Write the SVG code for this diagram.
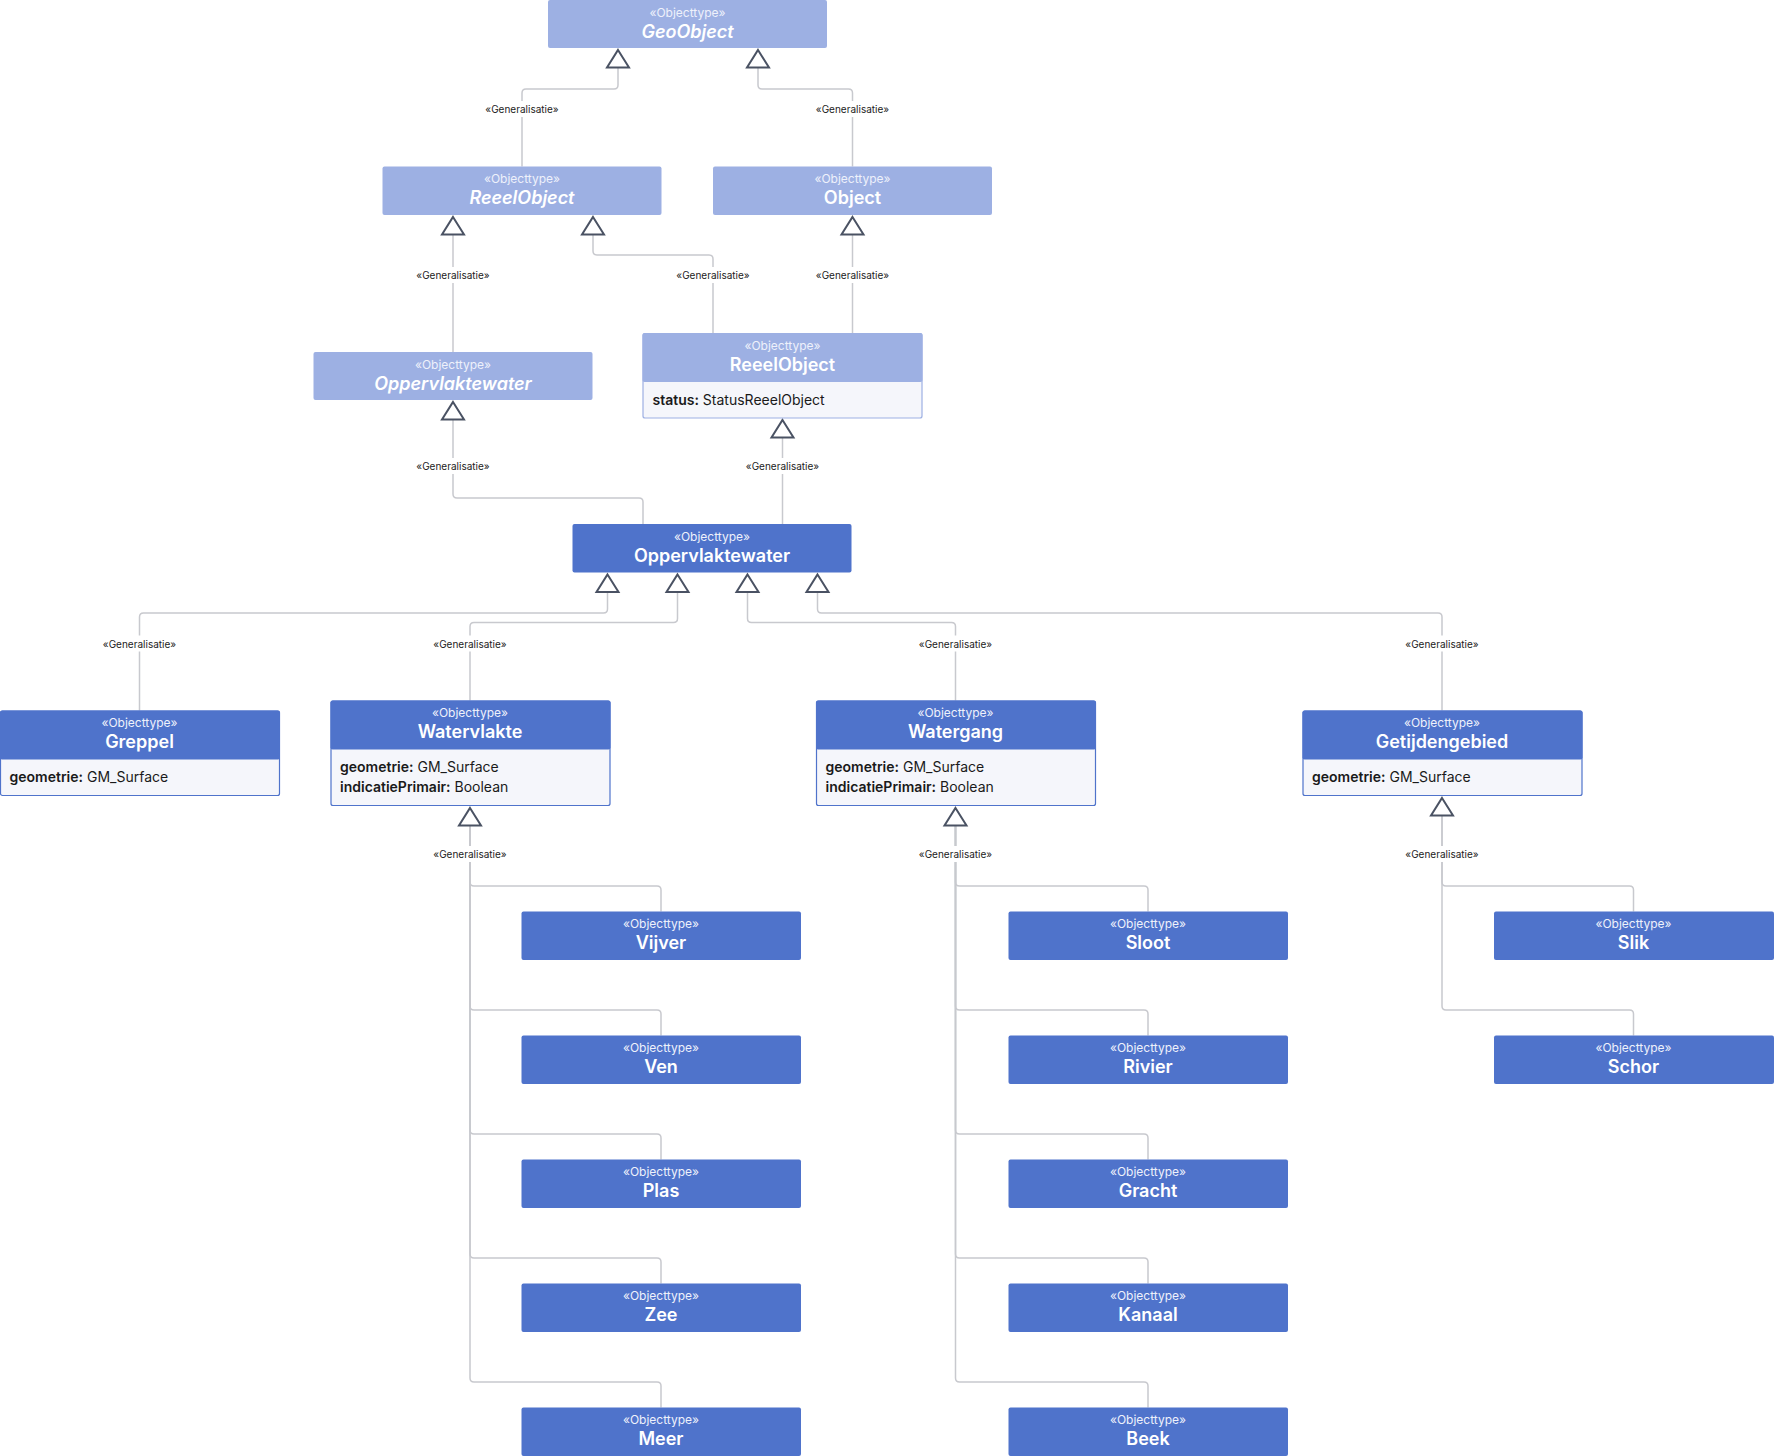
<svg xmlns="http://www.w3.org/2000/svg" width="1774" height="1456" viewBox="0 0 1774 1456">
<style>
.abs{fill:#9DB0E3}
.con{fill:#4F73CB}
.attrA{fill:#F5F6FB;stroke:#9DB0E3;stroke-width:1.2}
.attrC{fill:#F5F6FB;stroke:#4F73CB;stroke-width:1.2}
.st{font-family:Inter,"Liberation Sans",sans-serif;font-size:12px;fill:#EEF1FB;text-anchor:middle}
.ti{font-family:Inter,"Liberation Sans",sans-serif;font-size:18px;font-weight:600;fill:#FFFFFF;text-anchor:middle}
.it{font-style:italic}
.at{font-family:Inter,"Liberation Sans",sans-serif;font-size:14px;fill:#1A1A1A}
.at tspan.k{font-weight:600}
.ln{fill:none;stroke:#C8C9CE;stroke-width:1.5}
.tri{fill:#FFFFFF;stroke:#4A5263;stroke-width:2;stroke-linejoin:miter}
.lb{font-family:Inter,"Liberation Sans",sans-serif;font-size:10px;fill:#222;text-anchor:middle}
.lbg{fill:#FFFFFF}
</style>
<defs>
<path id="tr" d="M0,0 L11,17.5 L-11,17.5 Z"/>
</defs>

<g id="connectors">
<path class="ln" d="M618,67.5 V85 Q618,89 614,89 H526 Q522,89 522,93 V166.5"/>
<path class="ln" d="M758,67.5 V85 Q758,89 762,89 H848.5 Q852.5,89 852.5,93 V166.5"/>
<path class="ln" d="M453,234.5 V352"/>
<path class="ln" d="M593,234.5 V251 Q593,255 597,255 H709 Q713,255 713,259 V333"/>
<path class="ln" d="M852.5,234.5 V333"/>
<path class="ln" d="M453,419.5 V494 Q453,498 457,498 H639 Q643,498 643,502 V524"/>
<path class="ln" d="M782.5,437.5 V524"/>
<path class="ln" d="M607.5,592 V609 Q607.5,613 603.5,613 H143.5 Q139.5,613 139.5,617 V710.5"/>
<path class="ln" d="M677.5,592 V618.5 Q677.5,622.5 673.5,622.5 H474 Q470,622.5 470,626.5 V700.5"/>
<path class="ln" d="M747.5,592 V618.5 Q747.5,622.5 751.5,622.5 H951.5 Q955.5,622.5 955.5,626.5 V700.5"/>
<path class="ln" d="M817.5,592 V609 Q817.5,613 821.5,613 H1438 Q1442,613 1442,617 V710.5"/>
<path class="ln" d="M470,825.5 V882 Q470,886 474,886 H657 Q661,886 661,890 V911.5"/>
<path class="ln" d="M470,825.5 V1006 Q470,1010 474,1010 H657 Q661,1010 661,1014 V1035.5"/>
<path class="ln" d="M470,825.5 V1130 Q470,1134 474,1134 H657 Q661,1134 661,1138 V1159.5"/>
<path class="ln" d="M470,825.5 V1254 Q470,1258 474,1258 H657 Q661,1258 661,1262 V1283.5"/>
<path class="ln" d="M470,825.5 V1378 Q470,1382 474,1382 H657 Q661,1382 661,1386 V1407.5"/>
<path class="ln" d="M955.5,825.5 V882 Q955.5,886 959.5,886 H1144 Q1148,886 1148,890 V911.5"/>
<path class="ln" d="M955.5,825.5 V1006 Q955.5,1010 959.5,1010 H1144 Q1148,1010 1148,1014 V1035.5"/>
<path class="ln" d="M955.5,825.5 V1130 Q955.5,1134 959.5,1134 H1144 Q1148,1134 1148,1138 V1159.5"/>
<path class="ln" d="M955.5,825.5 V1254 Q955.5,1258 959.5,1258 H1144 Q1148,1258 1148,1262 V1283.5"/>
<path class="ln" d="M955.5,825.5 V1378 Q955.5,1382 959.5,1382 H1144 Q1148,1382 1148,1386 V1407.5"/>
<path class="ln" d="M1442,815.5 V882 Q1442,886 1446,886 H1629.5 Q1633.5,886 1633.5,890 V911.5"/>
<path class="ln" d="M1442,815.5 V1006 Q1442,1010 1446,1010 H1629.5 Q1633.5,1010 1633.5,1014 V1035.5"/>

<use href="#tr" class="tri" x="618" y="50"/>
<use href="#tr" class="tri" x="758" y="50"/>
<use href="#tr" class="tri" x="453" y="217"/>
<use href="#tr" class="tri" x="593" y="217"/>
<use href="#tr" class="tri" x="852.5" y="217"/>
<use href="#tr" class="tri" x="453" y="402"/>
<use href="#tr" class="tri" x="782.5" y="420"/>
<use href="#tr" class="tri" x="607.5" y="574.5"/>
<use href="#tr" class="tri" x="677.5" y="574.5"/>
<use href="#tr" class="tri" x="747.5" y="574.5"/>
<use href="#tr" class="tri" x="817.5" y="574.5"/>
<use href="#tr" class="tri" x="470" y="808"/>
<use href="#tr" class="tri" x="955.5" y="808"/>
<use href="#tr" class="tri" x="1442" y="798"/>

<g>
<rect class="lbg" x="484" y="101" width="76" height="16"/><text class="lb" x="522" y="113">«Generalisatie»</text>
<rect class="lbg" x="814.5" y="101" width="76" height="16"/><text class="lb" x="852.5" y="113">«Generalisatie»</text>
<rect class="lbg" x="415" y="267" width="76" height="16"/><text class="lb" x="453" y="279">«Generalisatie»</text>
<rect class="lbg" x="675" y="267" width="76" height="16"/><text class="lb" x="713" y="279">«Generalisatie»</text>
<rect class="lbg" x="814.5" y="267" width="76" height="16"/><text class="lb" x="852.5" y="279">«Generalisatie»</text>
<rect class="lbg" x="415" y="458" width="76" height="16"/><text class="lb" x="453" y="470">«Generalisatie»</text>
<rect class="lbg" x="744.5" y="458" width="76" height="16"/><text class="lb" x="782.5" y="470">«Generalisatie»</text>
<rect class="lbg" x="101.5" y="635.5" width="76" height="16"/><text class="lb" x="139.5" y="647.5">«Generalisatie»</text>
<rect class="lbg" x="432" y="635.5" width="76" height="16"/><text class="lb" x="470" y="647.5">«Generalisatie»</text>
<rect class="lbg" x="917.5" y="635.5" width="76" height="16"/><text class="lb" x="955.5" y="647.5">«Generalisatie»</text>
<rect class="lbg" x="1404" y="635.5" width="76" height="16"/><text class="lb" x="1442" y="647.5">«Generalisatie»</text>
<rect class="lbg" x="432" y="846" width="76" height="16"/><text class="lb" x="470" y="858">«Generalisatie»</text>
<rect class="lbg" x="917.5" y="846" width="76" height="16"/><text class="lb" x="955.5" y="858">«Generalisatie»</text>
<rect class="lbg" x="1404" y="846" width="76" height="16"/><text class="lb" x="1442" y="858">«Generalisatie»</text>
</g>
</g>

<g id="GeoObject">
<rect class="abs" x="548" y="0" width="279" height="48" rx="2"/>
<text class="st" x="687.5" y="16.5">«Objecttype»</text>
<text class="ti it" x="687.5" y="37.5">GeoObject</text>
</g>
<g id="ReeelObjectAbstract">
<rect class="abs" x="382.5" y="166.5" width="279" height="48.5" rx="2"/>
<text class="st" x="522" y="183">«Objecttype»</text>
<text class="ti it" x="522" y="204">ReeelObject</text>
</g>
<g id="Object">
<rect class="abs" x="713" y="166.5" width="279" height="48.5" rx="2"/>
<text class="st" x="852.5" y="183">«Objecttype»</text>
<text class="ti" x="852.5" y="204">Object</text>
</g>
<g id="OppervlaktewaterAbstract">
<rect class="abs" x="313.5" y="352" width="279" height="48" rx="2"/>
<text class="st" x="453" y="368.5">«Objecttype»</text>
<text class="ti it" x="453" y="389.5">Oppervlaktewater</text>
</g>
<g id="ReeelObject">
<rect class="attrA" x="643" y="333.5" width="279" height="84.5" rx="2"/>
<rect class="abs" x="642.5" y="333" width="280" height="49" rx="2"/>
<text class="st" x="782.5" y="349.5">«Objecttype»</text>
<text class="ti" x="782.5" y="370.5">ReeelObject</text>
<text class="at" x="652.5" y="405"><tspan class="k">status:</tspan> StatusReeelObject</text>
</g>
<g id="Oppervlaktewater">
<rect class="con" x="572.5" y="524" width="279" height="48.5" rx="2"/>
<text class="st" x="712" y="540.5">«Objecttype»</text>
<text class="ti" x="712" y="561.5">Oppervlaktewater</text>
</g>
<g id="Greppel">
<rect class="attrC" x="0.5" y="711" width="279" height="84.5" rx="2"/>
<rect class="con" x="0" y="710.5" width="280" height="49" rx="2"/>
<text class="st" x="139.5" y="727">«Objecttype»</text>
<text class="ti" x="139.5" y="748">Greppel</text>
<text class="at" x="9.5" y="781.5"><tspan class="k">geometrie:</tspan> GM_Surface</text>
</g>
<g id="Watervlakte">
<rect class="attrC" x="331" y="701" width="279" height="104.5" rx="2"/>
<rect class="con" x="330.5" y="700.5" width="280" height="49" rx="2"/>
<text class="st" x="470" y="717">«Objecttype»</text>
<text class="ti" x="470" y="738">Watervlakte</text>
<text class="at" x="340" y="771.5"><tspan class="k">geometrie:</tspan> GM_Surface</text>
<text class="at" x="340" y="791.5"><tspan class="k">indicatiePrimair:</tspan> Boolean</text>
</g>
<g id="Watergang">
<rect class="attrC" x="816.5" y="701" width="279" height="104.5" rx="2"/>
<rect class="con" x="816" y="700.5" width="280" height="49" rx="2"/>
<text class="st" x="955.5" y="717">«Objecttype»</text>
<text class="ti" x="955.5" y="738">Watergang</text>
<text class="at" x="825.5" y="771.5"><tspan class="k">geometrie:</tspan> GM_Surface</text>
<text class="at" x="825.5" y="791.5"><tspan class="k">indicatiePrimair:</tspan> Boolean</text>
</g>
<g id="Getijdengebied">
<rect class="attrC" x="1303" y="711" width="279" height="84.5" rx="2"/>
<rect class="con" x="1302.5" y="710.5" width="280" height="49" rx="2"/>
<text class="st" x="1442" y="727">«Objecttype»</text>
<text class="ti" x="1442" y="748">Getijdengebied</text>
<text class="at" x="1312" y="781.5"><tspan class="k">geometrie:</tspan> GM_Surface</text>
</g>

<g id="Vijver"><rect class="con" x="521.5" y="911.5" width="279.5" height="48.5" rx="2"/><text class="st" x="661" y="928">«Objecttype»</text><text class="ti" x="661" y="949">Vijver</text></g>
<g id="Ven"><rect class="con" x="521.5" y="1035.5" width="279.5" height="48.5" rx="2"/><text class="st" x="661" y="1052">«Objecttype»</text><text class="ti" x="661" y="1073">Ven</text></g>
<g id="Plas"><rect class="con" x="521.5" y="1159.5" width="279.5" height="48.5" rx="2"/><text class="st" x="661" y="1176">«Objecttype»</text><text class="ti" x="661" y="1197">Plas</text></g>
<g id="Zee"><rect class="con" x="521.5" y="1283.5" width="279.5" height="48.5" rx="2"/><text class="st" x="661" y="1300">«Objecttype»</text><text class="ti" x="661" y="1321">Zee</text></g>
<g id="Meer"><rect class="con" x="521.5" y="1407.5" width="279.5" height="48.5" rx="2"/><text class="st" x="661" y="1424">«Objecttype»</text><text class="ti" x="661" y="1445">Meer</text></g>

<g id="Sloot"><rect class="con" x="1008.5" y="911.5" width="279.5" height="48.5" rx="2"/><text class="st" x="1148" y="928">«Objecttype»</text><text class="ti" x="1148" y="949">Sloot</text></g>
<g id="Rivier"><rect class="con" x="1008.5" y="1035.5" width="279.5" height="48.5" rx="2"/><text class="st" x="1148" y="1052">«Objecttype»</text><text class="ti" x="1148" y="1073">Rivier</text></g>
<g id="Gracht"><rect class="con" x="1008.5" y="1159.5" width="279.5" height="48.5" rx="2"/><text class="st" x="1148" y="1176">«Objecttype»</text><text class="ti" x="1148" y="1197">Gracht</text></g>
<g id="Kanaal"><rect class="con" x="1008.5" y="1283.5" width="279.5" height="48.5" rx="2"/><text class="st" x="1148" y="1300">«Objecttype»</text><text class="ti" x="1148" y="1321">Kanaal</text></g>
<g id="Beek"><rect class="con" x="1008.5" y="1407.5" width="279.5" height="48.5" rx="2"/><text class="st" x="1148" y="1424">«Objecttype»</text><text class="ti" x="1148" y="1445">Beek</text></g>

<g id="Slik"><rect class="con" x="1494" y="911.5" width="280" height="48.5" rx="2"/><text class="st" x="1633.5" y="928">«Objecttype»</text><text class="ti" x="1633.5" y="949">Slik</text></g>
<g id="Schor"><rect class="con" x="1494" y="1035.5" width="280" height="48.5" rx="2"/><text class="st" x="1633.5" y="1052">«Objecttype»</text><text class="ti" x="1633.5" y="1073">Schor</text></g>
</svg>
